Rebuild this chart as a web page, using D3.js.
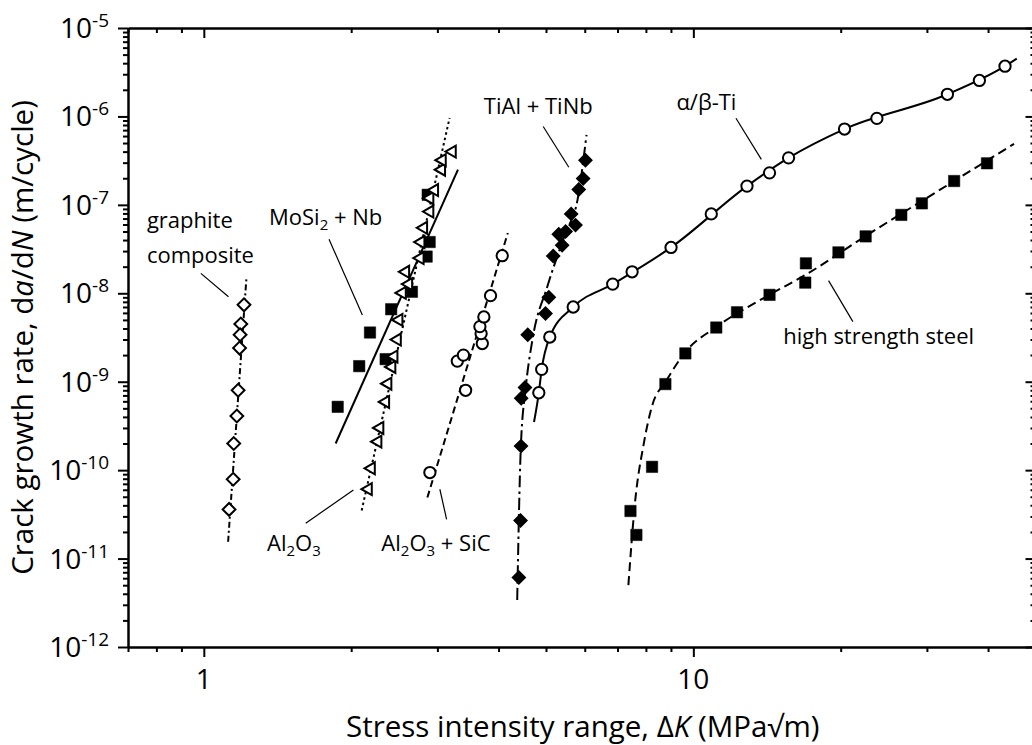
<!DOCTYPE html>
<html>
<head>
<meta charset="utf-8">
<script src="https://cdn.jsdelivr.net/npm/d3@7"></script>
<style>
  body { margin: 0; background: #fff; }
  svg { display: block; font-family: "Open Sans", "Noto Sans", sans-serif; }
</style>
</head>
<body>
<svg id="chart" width="1032" height="745"></svg>
<script>
// ΔK in MPa√m, da/dN in m/cycle
const graphitePts = [
  [1.208, 7.4e-9], [1.190, 4.5e-9], [1.186, 3.4e-9], [1.183, 2.4e-9],
  [1.175, 8.0e-10], [1.168, 4.1e-10], [1.151, 2.0e-10], [1.148, 7.9e-11],
  [1.126, 3.6e-11]
];
const graphiteFit = [[1.121, 1.55e-11], [1.222, 1.5e-8]];

const mosiPts = [
  [1.877, 5.2e-10], [2.077, 1.5e-9], [2.185, 3.6e-9], [2.352, 1.8e-9],
  [2.414, 6.6e-9], [2.661, 1.04e-8], [2.852, 2.6e-8], [2.893, 3.8e-8],
  [2.866, 1.3e-7]
];
const mosiFit = [[1.859, 2.0e-10], [3.305, 2.5e-7]];

const aluminaPts = [
  [2.168, 6.1e-11], [2.199, 1.05e-10], [2.268, 2.1e-10], [2.289, 3.0e-10],
  [2.352, 5.9e-10], [2.377, 9.5e-10], [2.422, 1.47e-9], [2.446, 1.93e-9],
  [2.485, 3.0e-9], [2.504, 5.0e-9], [2.544, 1.01e-8], [2.621, 1.27e-8],
  [2.584, 1.75e-8], [2.766, 2.5e-8], [2.777, 3.8e-8], [2.812, 5.5e-8],
  [2.896, 8.4e-8], [2.896, 1.19e-7], [2.961, 1.47e-7], [3.060, 2.5e-7],
  [3.070, 3.2e-7], [3.218, 4.0e-7]
];
const aluminaFit = [[2.101, 3.5e-11], [3.177, 9.6e-7]];

const aluminaSicPts = [
  [2.896, 9.4e-11], [3.426, 8.0e-10], [3.295, 1.71e-9], [3.391, 2.0e-9],
  [3.706, 2.7e-9], [3.685, 3.5e-9], [3.664, 4.2e-9], [3.733, 5.4e-9],
  [3.852, 9.4e-9], [4.070, 2.66e-8]
];
const aluminaSicFit = [[2.862, 4.9e-11], [4.178, 4.8e-8]];

const tialPts = [
  [4.401, 6.1e-12], [4.436, 2.7e-11], [4.446, 1.87e-10], [4.450, 6.5e-10],
  [4.530, 8.6e-10], [4.589, 3.4e-9], [4.989, 5.9e-9], [5.067, 9.0e-9],
  [5.173, 2.64e-8], [5.395, 3.5e-8], [5.310, 4.65e-8], [5.483, 5.0e-8],
  [5.745, 5.9e-8], [5.629, 7.9e-8], [5.833, 1.49e-7], [5.955, 1.98e-7],
  [6.020, 3.2e-7]
];
const tialFit = [
  [4.367, 3.4e-12], [4.442, 1.83e-10], [4.540, 8.0e-10], [4.692, 3.0e-9],
  [5.029, 1.18e-8], [5.483, 4.8e-8], [5.798, 1.13e-7], [6.050, 6.2e-7]
];

const titaniumPts = [
  [4.834, 7.5e-10], [4.900, 1.38e-9], [5.090, 3.2e-9], [5.683, 7.0e-9],
  [6.843, 1.27e-8], [7.497, 1.75e-8], [9.004, 3.3e-8], [10.88, 7.9e-8],
  [12.87, 1.63e-7], [14.31, 2.3e-7], [15.65, 3.4e-7], [20.36, 7.2e-7],
  [23.71, 9.5e-7], [33.04, 1.78e-6], [38.40, 2.55e-6], [43.32, 3.7e-6]
];
const titaniumFit = [
  [4.726, 3.5e-10], [4.834, 7.5e-10], [4.900, 1.38e-9], [5.090, 3.2e-9],
  [5.683, 7.0e-9], [6.843, 1.27e-8], [9.004, 3.3e-8], [12.87, 1.63e-7],
  [15.65, 3.4e-7], [20.36, 7.2e-7], [33.04, 1.78e-6], [43.32, 3.7e-6],
  [45.78, 4.5e-6]
];

const steelPts = [
  [7.44, 3.45e-11], [7.65, 1.85e-11], [8.235, 1.09e-10], [8.768, 9.4e-10],
  [9.632, 2.09e-9], [11.14, 4.1e-9], [12.28, 6.1e-9], [14.31, 9.6e-9],
  [16.93, 1.32e-8], [16.98, 2.18e-8], [19.79, 2.9e-8], [22.49, 4.4e-8],
  [26.6, 7.7e-8], [29.3, 1.04e-7], [34.1, 1.86e-7], [39.8, 2.95e-7]
];
const steelFit = [
  [7.367, 5.0e-12], [7.61, 4.6e-11], [7.91, 1.92e-10], [8.25, 5.5e-10],
  [8.768, 9.9e-10], [9.632, 2.17e-9], [11.14, 4.16e-9], [14.3, 9.6e-9],
  [16.93, 1.61e-8], [22.5, 4.45e-8], [34.1, 1.86e-7], [45.2, 4.9e-7]
];

const xTickLabels = [1, 10];
const yTickExps = [-5, -6, -7, -8, -9, -10, -11, -12];

const svg = d3.select("#chart");
const W = 1032, H = 745;
const m = { left: 128, right: 1035.5, top: 28, bottom: 647 };

const x = d3.scaleLog().domain([0.7, 50]).range([m.left, m.right]);
const y = d3.scaleLog().domain([1e-12, 1e-5]).range([m.bottom, m.top]);

svg.append("rect").attr("width", W).attr("height", H).attr("fill", "#fff");

// tick positions: 1..9 per decade
function logTicks(scale) {
  const [a, b] = scale.domain();
  const out = [];
  for (let e = Math.floor(Math.log10(a)); e <= Math.ceil(Math.log10(b)); e++) {
    for (let k = 1; k <= 9; k++) {
      const v = k * Math.pow(10, e);
      if (v >= a * 0.999 && v <= b * 1.001) out.push({ v, major: k === 1 });
    }
  }
  return out;
}

const xt = logTicks(x), yt = logTicks(y);

function drawAxis(axisFn, scale, ticks, transform, outward) {
  const g = svg.append("g").attr("transform", transform);
  [true, false].forEach(major => {
    const vals = ticks.filter(t => t.major === major).map(t => t.v);
    const len = major ? 10 : 5;
    const ax = axisFn(scale).tickValues(vals).tickFormat("")
      .tickSize(outward ? len : -len).tickSizeOuter(0);
    const sub = g.append("g").call(ax);
    sub.selectAll("line").attr("stroke", "#000").attr("stroke-width", 2);
    sub.select(".domain").attr("stroke", major ? "#000" : "none").attr("stroke-width", 2.5);
  });
}

drawAxis(d3.axisBottom, x, xt, `translate(0,${m.bottom})`, true);
drawAxis(d3.axisTop, x, xt, `translate(0,${m.top})`, false);
drawAxis(d3.axisLeft, y, yt, `translate(${m.left},0)`, true);
drawAxis(d3.axisRight, y, yt, `translate(${m.right},0)`, false);

// tick labels
svg.append("g").selectAll("text").data(xTickLabels).join("text")
  .attr("x", d => x(d)).attr("y", 689)
  .attr("text-anchor", "middle").attr("font-size", 28)
  .text(d => d);

const yl = svg.append("g").selectAll("text").data(yTickExps).join("text")
  .attr("x", 109).attr("y", d => y(Math.pow(10, d)) + 10)
  .attr("text-anchor", "end").attr("font-size", 28);
yl.append("tspan").text("10");
yl.append("tspan").attr("dy", -11).attr("font-size", 19).text(d => String(d));

// axis titles
const xTitle = svg.append("text").attr("x", (m.left + m.right) / 2 + 1).attr("y", 737)
  .attr("text-anchor", "middle").attr("font-size", 29.5);
xTitle.append("tspan").text("Stress intensity range, Δ");
xTitle.append("tspan").attr("font-style", "italic").text("K");
xTitle.append("tspan").text(" (MPa√m)");

const yTitle = svg.append("text")
  .attr("transform", `translate(33,${(m.top + m.bottom) / 2}) rotate(-90)`)
  .attr("text-anchor", "middle").attr("font-size", 29.5);
yTitle.append("tspan").text("Crack growth rate, d");
yTitle.append("tspan").attr("font-style", "italic").text("a");
yTitle.append("tspan").text("/d");
yTitle.append("tspan").attr("font-style", "italic").text("N");
yTitle.append("tspan").text(" (m/cycle)");

// fit lines
const lineGen = d3.line().x(d => x(d[0])).y(d => y(d[1])).curve(d3.curveMonotoneX);
const fits = [
  { data: graphiteFit, dash: "6,3,2,3" },
  { data: mosiFit, dash: null },
  { data: aluminaFit, dash: "2.5,3" },
  { data: aluminaSicFit, dash: "7,4" },
  { data: tialFit, dash: "12,4,2.5,4" },
  { data: titaniumFit, dash: null },
  { data: steelFit, dash: "9,5" }
];
svg.append("g").selectAll("path").data(fits).join("path")
  .attr("d", d => lineGen(d.data))
  .attr("fill", "none").attr("stroke", "#000").attr("stroke-width", 2)
  .attr("stroke-dasharray", d => d.dash);

// markers
const sym = {
  square: { path: d3.symbol(d3.symbolSquare, 130)(), rot: 0 },
  diamond: { path: d3.symbol(d3.symbolSquare, 82)(), rot: 45 },
  triangle: { path: d3.symbol(d3.symbolTriangle, 62)(), rot: -90 },
  circle: { path: d3.symbol(d3.symbolCircle, 100)(), rot: 0 }
};
const series = [
  { data: graphitePts, shape: "diamond", fill: "#fff" },
  { data: mosiPts, shape: "square", fill: "#000" },
  { data: aluminaPts, shape: "triangle", fill: "#fff" },
  { data: aluminaSicPts, shape: "circle", fill: "#fff" },
  { data: tialPts, shape: "diamond", fill: "#000" },
  { data: titaniumPts, shape: "circle", fill: "#fff" },
  { data: steelPts, shape: "square", fill: "#000" }
];
series.forEach(s => {
  svg.append("g").selectAll("path").data(s.data).join("path")
    .attr("transform", d => `translate(${x(d[0])},${y(d[1])}) rotate(${sym[s.shape].rot})`)
    .attr("d", sym[s.shape].path)
    .attr("fill", s.fill)
    .attr("stroke", "#000")
    .attr("stroke-width", s.fill === "#fff" ? 2 : (s.shape === "diamond" ? 1.5 : 0.5));
});

// annotations: anchor and leader line in data coordinates
const notes = [
  { lines: [["graphite"], ["composite"]], at: [0.765, 5.47e-8], at2: 2.2e-8, from: [0.986, 1.68e-8], to: [1.123, 9.14e-9] },
  { lines: [["MoSi", "2", " + Nb"]], at: [1.359, 5.92e-8], from: [1.802, 4.08e-8], to: [2.108, 5.69e-9] },
  { lines: [["Al", "2", "O", "3"]], at: [1.733, 1.22e-11], anchor: "end", from: [1.615, 2.51e-11], to: [2.021, 5.97e-11] },
  { lines: [["Al", "2", "O", "3", " + SiC"]], at: [2.305, 1.22e-11], from: [3.133, 2.78e-11], to: [3.035, 6.08e-11] },
  { lines: [["TiAl + TiNb"]], at: [3.733, 1.06e-6], from: [4.935, 7.69e-7], to: [5.567, 2.66e-7] },
  { lines: [["α/β-Ti"]], at: [9.233, 1.18e-6], from: [12.22, 9.53e-7], to: [13.77, 3.27e-7] },
  { lines: [["high strength steel"]], at: [15.26, 2.67e-9], from: [18.89, 1.39e-8], to: [21.18, 4.78e-9] }
];
const ng = svg.append("g").attr("font-size", 22);
notes.forEach(n => {
  ng.append("line")
    .attr("x1", x(n.from[0])).attr("y1", y(n.from[1]))
    .attr("x2", x(n.to[0])).attr("y2", y(n.to[1]))
    .attr("stroke", "#000").attr("stroke-width", 1.2);
  n.lines.forEach((parts, i) => {
    const t = ng.append("text")
      .attr("x", x(n.at[0]))
      .attr("y", i === 0 ? y(n.at[1]) : y(n.at2))
      .attr("text-anchor", n.anchor || "start");
    // odd-indexed parts are subscripts
    parts.forEach((p, j) => {
      const sp = t.append("tspan").text(p);
      if (j % 2 === 1) sp.attr("font-size", 15).attr("dy", 5);
      else if (j > 0) sp.attr("dy", -5);
    });
  });
});
</script>
</body>
</html>
